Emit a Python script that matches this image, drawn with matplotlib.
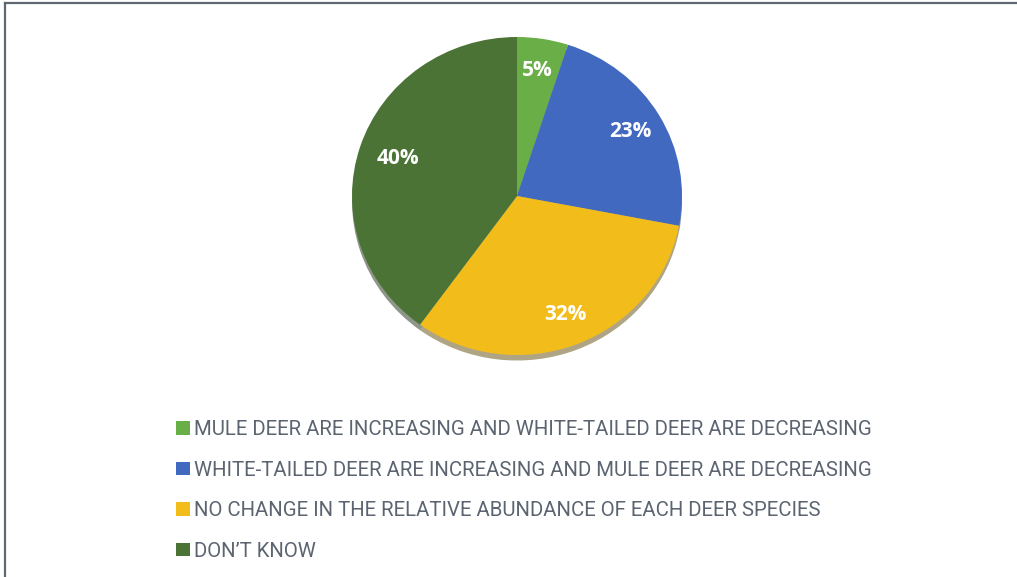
import matplotlib
matplotlib.use("Agg")
import matplotlib.pyplot as plt
import numpy as np

# survey answers (percent)
answers = [
    "MULE DEER ARE INCREASING AND WHITE-TAILED DEER ARE DECREASING",
    "WHITE-TAILED DEER ARE INCREASING AND MULE DEER ARE DECREASING",
    "NO CHANGE IN THE RELATIVE ABUNDANCE OF EACH DEER SPECIES",
    "DON\u2019T KNOW",
]
shares = [5, 23, 32, 40]
colors = ["#6aae47", "#4169c0", "#f2bd1b", "#4c7336"]

W, H = 1017, 577
fig = plt.figure(figsize=(W / 100, H / 100), dpi=100)

# pie axes; slightly squashed vertically like the original
cx, cy, rx, ry = 517, 196, 165, 159
ax = fig.add_axes([(cx - rx) / W, (H - cy - ry) / H, 2 * rx / W, 2 * ry / H])

wedges, _, pct = ax.pie(shares, colors=colors, startangle=90, counterclock=False,
                        autopct="%d%%", pctdistance=0.8,
                        shadow=dict(ox=0.0, oy=-0.025, shade=0.6),
                        wedgeprops=dict(linewidth=0),
                        textprops=dict(color="white", fontsize=15, fontweight="bold",
                                       family=["Open Sans", "DejaVu Sans"]))
# excel "best fit" puts the big slice label higher up
ang = np.deg2rad(162)
pct[3].set_position((0.76 * np.cos(ang), 0.76 * np.sin(ang)))
ax.set_aspect("auto")
ax.set_xlim(-1, 1)
ax.set_ylim(-1, 1)
ax.axis("off")

leg = fig.legend(wedges, answers, loc="upper left",
                 bbox_to_anchor=(158 / W, 1 - 402 / H), frameon=False,
                 handlelength=0.65, handleheight=0.65, handletextpad=0.2,
                 labelspacing=1.05,
                 prop=dict(family=["Roboto", "DejaVu Sans"], size=14.7))
for t in leg.get_texts():
    t.set_color("#5b6470")

# frame lines on top and left edge only
fig.add_artist(plt.Line2D([5 / W, 1], [1 - 3 / H, 1 - 3 / H], color="#5f6770", lw=1.6))
fig.add_artist(plt.Line2D([5 / W, 5 / W], [0, 1 - 3 / H], color="#5f6770", lw=1.6))

fig.savefig("out.png", dpi=100)
